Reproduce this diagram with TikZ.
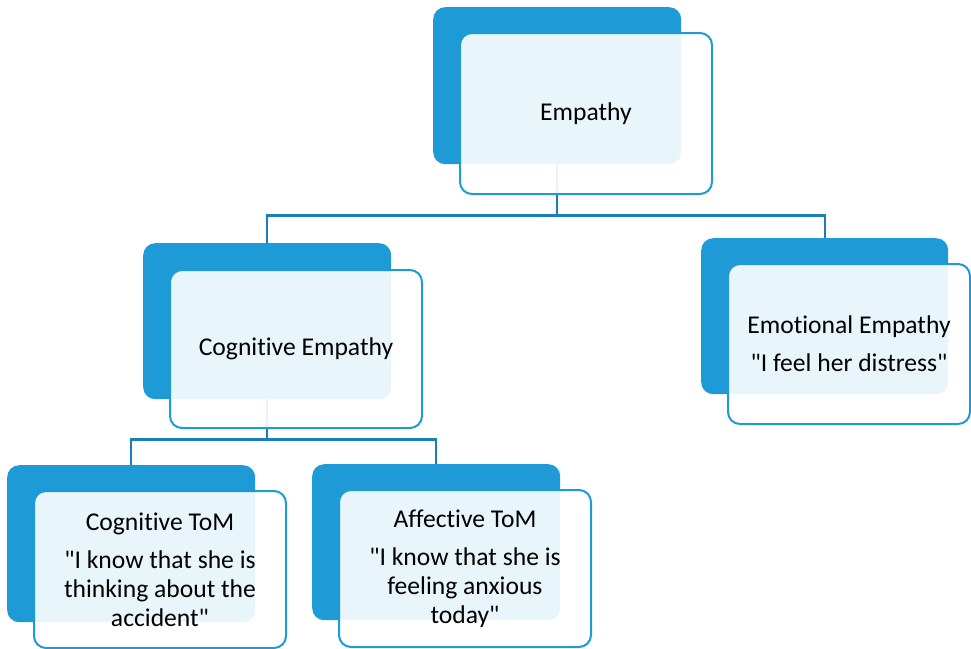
\documentclass[tikz,border=0pt]{standalone}
\usepackage{fontspec}
\setmainfont{Carlito}[Ligatures={NoCommon,TeXOff}]
\definecolor{boxblue}{HTML}{1E9BD7}
\definecolor{lineblue}{HTML}{1A7FB8}
\begin{document}
\begin{tikzpicture}[x=1pt,y=-1pt,
  backbox/.style={fill=boxblue, rounded corners=12pt, inner sep=0pt, anchor=north west},
  frontbox/.style={draw=boxblue, line width=2pt, fill=white, fill opacity=0.9, text opacity=1,
    rounded corners=12pt, inner sep=0pt, anchor=north west, align=center,
    font=\fontsize{25.6}{28.8}\selectfont},
  conn/.style={draw=lineblue, line width=2.2pt}]
\useasboundingbox (0,0) rectangle (971,648);
% back boxes
\node (e0b) [backbox, minimum width=248pt, minimum height=157pt] at (433,7) {};
\node (e1b) [backbox, minimum width=248pt, minimum height=156pt] at (143,243) {};
\node (e2b) [backbox, minimum width=247pt, minimum height=156pt] at (701,238) {};
\node (e3b) [backbox, minimum width=248pt, minimum height=157pt] at (7,465) {};
\node (e4b) [backbox, minimum width=248pt, minimum height=156pt] at (312,464) {};
% connectors
\draw[conn] (e0b.south) -- ++(0,51) coordinate (j0) -| (e1b.north);
\draw[conn] (j0) -| (e2b.north);
\draw[conn] (e1b.south) -- ++(0,40) coordinate (j1) -| (e3b.north);
\draw[conn] (j1) -| (e4b.north);
% front boxes
\node (e0) [frontbox, minimum width=252pt, minimum height=161pt] at (459,32) {Empathy};
\node (e1) [frontbox, minimum width=252pt, minimum height=158pt] at (169,269) {Cognitive Empathy};
\node (e2) [frontbox, minimum width=242pt, minimum height=160pt] at (727,263) {Emotional Empathy\\[9pt]"I feel her distress"};
\node (e3) [frontbox, minimum width=252pt, minimum height=157pt] at (33,490) {Cognitive ToM\\[10pt]"I know that she is\\thinking about the\\accident"};
\node (e4) [frontbox, minimum width=252pt, minimum height=157pt] at (338,489) {Affective ToM\\[10pt]"I know that she is\\feeling anxious\\today"};
\end{tikzpicture}
\end{document}
